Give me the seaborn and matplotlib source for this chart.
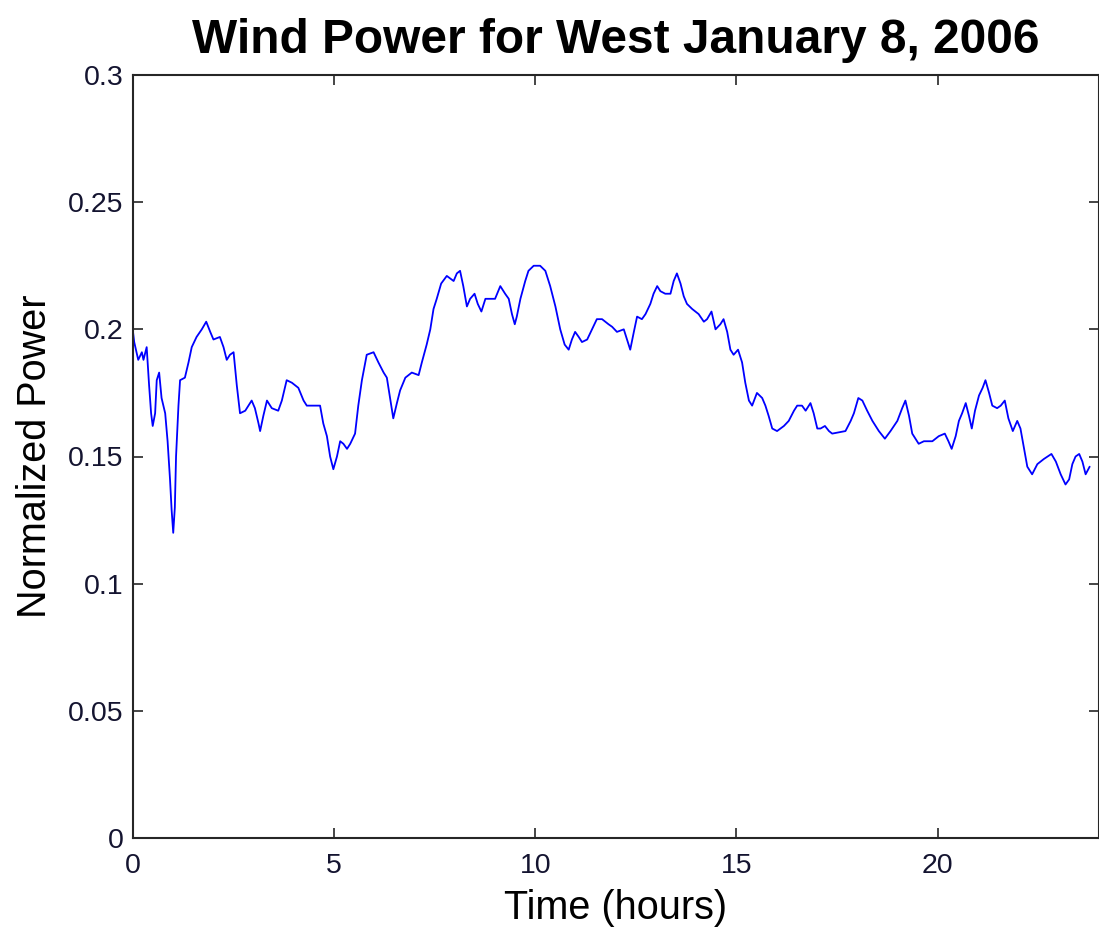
import matplotlib
matplotlib.use("Agg")
import matplotlib.pyplot as plt
import seaborn as sns
import pandas as pd

# Time (hours) and normalized power
time_hours = [
    0.00, 0.03, 0.13, 0.22, 0.26, 0.34, 0.40, 0.45, 0.49, 0.55, 0.59, 0.65, 0.71, 0.80, 0.86,
    0.92, 0.96, 1.00, 1.04, 1.07, 1.13, 1.17, 1.29, 1.38, 1.46, 1.58, 1.71, 1.82, 1.92, 2.00,
    2.16, 2.25, 2.33, 2.41, 2.50, 2.58, 2.66, 2.79, 2.95, 3.03, 3.12, 3.16, 3.24, 3.33, 3.45,
    3.61, 3.70, 3.82, 3.95, 4.11, 4.24, 4.32, 4.65, 4.73, 4.82, 4.90, 4.98, 5.07, 5.15, 5.23,
    5.32, 5.40, 5.52, 5.60, 5.69, 5.81, 5.98, 6.10, 6.23, 6.31, 6.39, 6.47, 6.56, 6.64, 6.77,
    6.93, 7.10, 7.18, 7.30, 7.39, 7.47, 7.55, 7.66, 7.80, 7.97, 8.05, 8.13, 8.21, 8.30, 8.38,
    8.49, 8.57, 8.66, 8.76, 9.00, 9.13, 9.25, 9.34, 9.42, 9.49, 9.54, 9.63, 9.75, 9.83, 9.96,
    10.12, 10.25, 10.37, 10.50, 10.62, 10.73, 10.83, 10.91, 10.99, 11.08, 11.16, 11.29, 11.41,
    11.53, 11.66, 11.82, 11.91, 12.03, 12.20, 12.28, 12.36, 12.45, 12.53, 12.65, 12.74, 12.86,
    12.94, 13.03, 13.11, 13.23, 13.36, 13.44, 13.52, 13.61, 13.69, 13.77, 13.90, 14.06, 14.19,
    14.27, 14.38, 14.48, 14.60, 14.68, 14.77, 14.85, 14.93, 15.04, 15.14, 15.22, 15.31, 15.39,
    15.51, 15.64, 15.72, 15.80, 15.89, 16.01, 16.18, 16.30, 16.43, 16.51, 16.63, 16.72, 16.84,
    16.92, 17.01, 17.09, 17.20, 17.30, 17.38, 17.71, 17.84, 17.92, 18.03, 18.13, 18.25, 18.38,
    18.54, 18.69, 18.83, 19.00, 19.12, 19.20, 19.29, 19.37, 19.53, 19.66, 19.87, 20.03, 20.18,
    20.27, 20.35, 20.45, 20.53, 20.61, 20.70, 20.78, 20.85, 20.93, 21.03, 21.12, 21.19, 21.28,
    21.36, 21.48, 21.57, 21.67, 21.76, 21.87, 21.98, 22.06, 22.15, 22.23, 22.35, 22.48, 22.64,
    22.83, 22.94, 23.06, 23.18, 23.27, 23.35, 23.43, 23.52, 23.60, 23.68, 23.78,
]
normalized_power = [
    0.199, 0.195, 0.188, 0.191, 0.188, 0.193, 0.178, 0.167, 0.162, 0.167, 0.180, 0.183, 0.173, 0.167, 0.156,
    0.141, 0.129, 0.120, 0.130, 0.150, 0.170, 0.180, 0.181, 0.187, 0.193, 0.197, 0.200, 0.203, 0.199, 0.196,
    0.197, 0.193, 0.188, 0.190, 0.191, 0.178, 0.167, 0.168, 0.172, 0.169, 0.163, 0.160, 0.166, 0.172, 0.169,
    0.168, 0.172, 0.180, 0.179, 0.177, 0.172, 0.170, 0.170, 0.163, 0.158, 0.150, 0.145, 0.150, 0.156, 0.155,
    0.153, 0.155, 0.159, 0.170, 0.180, 0.190, 0.191, 0.187, 0.183, 0.181, 0.173, 0.165, 0.171, 0.176, 0.181,
    0.183, 0.182, 0.187, 0.194, 0.200, 0.208, 0.212, 0.218, 0.221, 0.219, 0.222, 0.223, 0.217, 0.209, 0.212,
    0.214, 0.210, 0.207, 0.212, 0.212, 0.217, 0.214, 0.212, 0.206, 0.202, 0.205, 0.212, 0.219, 0.223, 0.225,
    0.225, 0.223, 0.217, 0.209, 0.200, 0.194, 0.192, 0.196, 0.199, 0.197, 0.195, 0.196, 0.200,
    0.204, 0.204, 0.202, 0.201, 0.199, 0.200, 0.196, 0.192, 0.199, 0.205, 0.204, 0.206, 0.210,
    0.214, 0.217, 0.215, 0.214, 0.214, 0.219, 0.222, 0.218, 0.213, 0.210, 0.208, 0.206, 0.203,
    0.204, 0.207, 0.200, 0.202, 0.204, 0.199, 0.192, 0.190, 0.192, 0.187, 0.179, 0.172, 0.170,
    0.175, 0.173, 0.170, 0.166, 0.161, 0.160, 0.162, 0.164, 0.168, 0.170, 0.170, 0.168, 0.171,
    0.167, 0.161, 0.161, 0.162, 0.160, 0.159, 0.160, 0.164, 0.167, 0.173, 0.172, 0.168, 0.164,
    0.160, 0.157, 0.160, 0.164, 0.169, 0.172, 0.166, 0.159, 0.155, 0.156, 0.156, 0.158, 0.159,
    0.156, 0.153, 0.158, 0.164, 0.167, 0.171, 0.166, 0.161, 0.168, 0.174, 0.177, 0.180, 0.175,
    0.170, 0.169, 0.170, 0.172, 0.165, 0.160, 0.164, 0.161, 0.153, 0.146, 0.143, 0.147, 0.149,
    0.151, 0.148, 0.143, 0.139, 0.141, 0.147, 0.150, 0.151, 0.148, 0.143, 0.146,
]

x_ticks = [0, 5, 10, 15, 20]
x_tick_labels = ["0", "5", "10", "15", "20"]
y_ticks = [0, 0.05, 0.1, 0.15, 0.2, 0.25, 0.3]
y_tick_labels = ["0", "0.05", "0.1", "0.15", "0.2", "0.25", "0.3"]

title_text = "Wind Power for West January 8, 2006"
x_label = "Time (hours)"
y_label = "Normalized Power"

sns.set_style("white")
plt.rcParams["font.family"] = ["Liberation Sans", "DejaVu Sans"]

df = pd.DataFrame({"t": time_hours, "p": normalized_power})

fig = plt.figure(figsize=(10.99, 9.33), dpi=100)
ax = fig.add_axes([133 / 1099, 1 - 838 / 933, (1098.5 - 133) / 1099, (838 - 75) / 933])

sns.lineplot(data=df, x="t", y="p", ax=ax, color="#0000ff", linewidth=1.3,
             estimator=None, sort=False)

ax.set_xlim(0, 24)
ax.set_ylim(0, 0.3)
ax.set_xticks(x_ticks)
ax.set_xticklabels(x_tick_labels)
ax.set_yticks(y_ticks)
ax.set_yticklabels(y_tick_labels)

ax.tick_params(axis="both", which="both", direction="in", length=7.5, width=1.2,
               color="#262626", labelsize=20.5, labelcolor="#141430",
               top=True, right=True, bottom=True, left=True)
ax.tick_params(axis="x", pad=11)
ax.tick_params(axis="y", pad=7)

for s in ax.spines.values():
    s.set_visible(True)
    s.set_color("#262626")
    s.set_linewidth(1.5)

ax.set_xlabel(x_label, fontsize=28.5, labelpad=7, color="black")
ax.set_ylabel(y_label, fontsize=28.5, labelpad=10, color="black")
ax.set_title(title_text, fontsize=34.5, fontweight="bold", pad=16, color="black")

fig.savefig("out.png", dpi=100)
